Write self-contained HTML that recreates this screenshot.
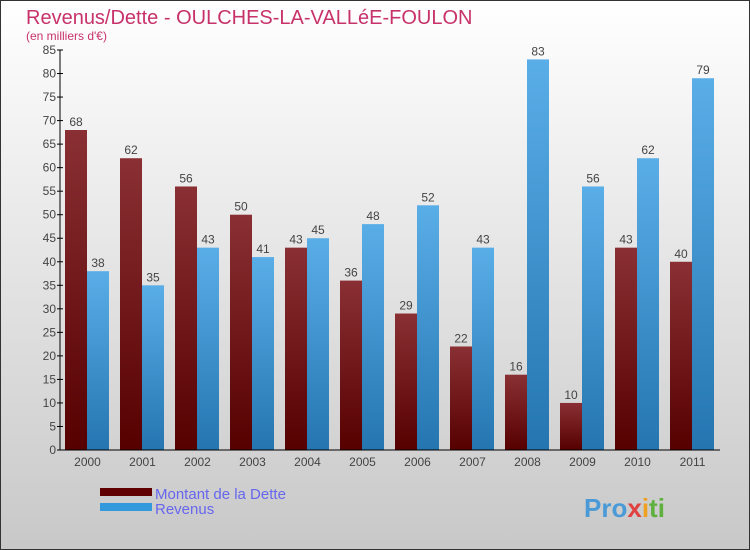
<!DOCTYPE html>
<html><head><meta charset="utf-8"><style>
html,body{margin:0;padding:0;}
body{width:750px;height:550px;overflow:hidden;font-family:"Liberation Sans","DejaVu Sans",sans-serif;}
#wrap{position:absolute;left:0;top:0;width:748px;height:548px;border:1px solid #333;background:linear-gradient(#ffffff,#c8c8c8);}
</style></head><body>
<div id="wrap">
<svg id="chart" width="750" height="550" style="position:absolute;left:-1px;top:-1px">
<defs>
<linearGradient id="gr" x1="0" y1="0" x2="0" y2="1"><stop offset="0" stop-color="#8a3034"/><stop offset="1" stop-color="#560000"/></linearGradient>
<linearGradient id="gb" x1="0" y1="0" x2="0" y2="1"><stop offset="0" stop-color="#5aaee8"/><stop offset="1" stop-color="#2475b0"/></linearGradient>
</defs>
<text x="26" y="24" font-size="20" fill="#c8326a">Revenus/Dette - OULCHES-LA-VALLéE-FOULON</text>
<text x="26" y="40" font-size="12" fill="#c8326a">(en milliers d'€)</text>
<g id="plot"></g>
<rect x="100" y="488" width="52" height="8" fill="#600000"/>
<rect x="100" y="503" width="52" height="8" fill="#3399dd"/>
<text x="155" y="499" font-size="15" fill="#6666ee">Montant de la Dette</text>
<text x="155" y="514" font-size="15" fill="#6666ee">Revenus</text>
<text x="584" y="517" font-size="26" font-weight="bold" fill="#4a9ad8">Pro<tspan fill="#e04040">x</tspan><tspan fill="#f0a020">i</tspan><tspan fill="#60b040">ti</tspan></text>
</svg>
</div>
<script>
const categories=["2000","2001","2002","2003","2004","2005","2006","2007","2008","2009","2010","2011"];
const dette=[68,62,56,50,43,36,29,22,16,10,43,40];
const revenus=[38,35,43,41,45,48,52,43,83,56,62,79];
const yTicks=[0,5,10,15,20,25,30,35,40,45,50,55,60,65,70,75,80,85];
const NS="http://www.w3.org/2000/svg";
const g=document.getElementById("plot");
const x0=60,groupW=55,y0=450,yTop=50,yMax=85;
function y(v){return y0-(v/yMax)*(y0-yTop);}
function gx(i){return x0+i*groupW;}
function mk(t,a){const e=document.createElementNS(NS,t);for(const k in a)e.setAttribute(k,a[k]);g.appendChild(e);return e;}
yTicks.forEach(v=>{
 const l=mk("line",{x1:x0-3,x2:x0+3,y1:y(v),y2:y(v),stroke:"#000"});
 
 
 const t=mk("text",{x:x0-4,y:y(v)+4,"font-size":12,fill:"#444","text-anchor":"end"});
 t.textContent=v;
 
 
});
categories.forEach((c,i)=>{
 const b1=mk("rect",{x:gx(i)+5,y:y(dette[i]),width:22,height:y0-y(dette[i]),fill:"url(#gr)"});
 
 
 const b2=mk("rect",{x:gx(i)+27,y:y(revenus[i]),width:22,height:y0-y(revenus[i]),fill:"url(#gb)"});
 
 
 const v1=mk("text",{x:gx(i)+16,y:y(dette[i])-4,"font-size":12,fill:"#444","text-anchor":"middle"});
 v1.textContent=dette[i];
 
 
 const v2=mk("text",{x:gx(i)+38,y:y(revenus[i])-4,"font-size":12,fill:"#444","text-anchor":"middle"});
 v2.textContent=revenus[i];
 
 
 const t=mk("text",{x:gx(i)+27.5,y:y0+16,"font-size":12,fill:"#444","text-anchor":"middle"});
 t.textContent=c;
 
 
});
const ax=mk("line",{x1:x0,x2:x0,y1:yTop,y2:y0,stroke:"#000"});


const bx=mk("line",{x1:x0,x2:x0+groupW*12,y1:y0,y2:y0,stroke:"#000"});


</script>
</body></html>
